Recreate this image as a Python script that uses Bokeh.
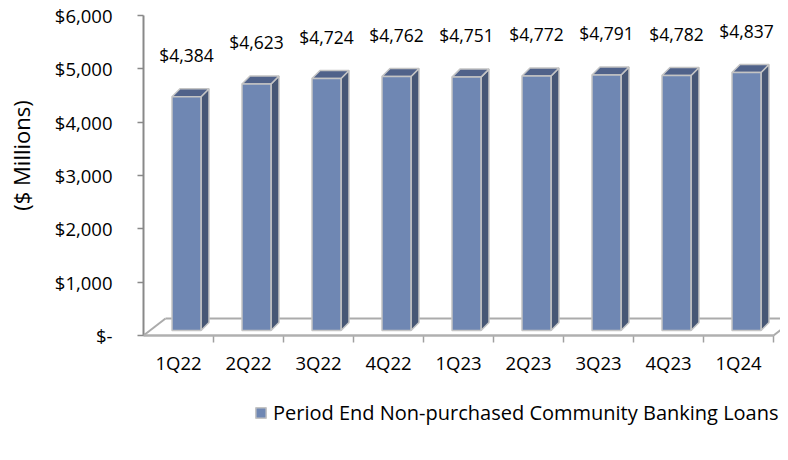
import math
from bokeh.plotting import figure
from bokeh.models import (Range1d, FixedTicker, Legend, LegendItem, Label,
                          ColumnDataSource, CustomJSTickFormatter)
from bokeh.embed import file_html
from bokeh.resources import INLINE
from bokeh.core.properties import value

# ---------------- data ----------------
categories = ["1Q22", "2Q22", "3Q22", "4Q22", "1Q23", "2Q23", "3Q23", "4Q23", "1Q24"]
loans = [4384, 4623, 4724, 4762, 4751, 4772, 4791, 4782, 4837]
data_labels = ["$4,384", "$4,623", "$4,724", "$4,762", "$4,751",
               "$4,772", "$4,791", "$4,782", "$4,837"]
y_ticks = [0, 1000, 2000, 3000, 4000, 5000, 6000]
y_tick_labels = ["$-", "$1,000", "$2,000", "$3,000", "$4,000", "$5,000", "$6,000"]
series_name = "Period End Non-purchased Community Banking Loans"
y_title = "($ Millions)"

# ---------------- layout (canvas pixels) ----------------
W, H = 780, 444
AX_X = 143      # canvas x of the value axis / first category edge
AX_TOP = 15     # canvas y of $6,000
AX_BOT = 335    # canvas y of $0
CAT_W = 70.0    # px per category
YMAX = 6000
sx = CAT_W
sy = (AX_BOT - AX_TOP) / YMAX

x_start = -AX_X / sx
x_end = (W - AX_X) / sx
y_end = YMAX + AX_TOP / sy
y_start = -(H - AX_BOT) / sy

FONT = "Open Sans"
FRONT = "#6F87B3"
SIDE = "#475775"
TOP = "#50628A"
EDGE = "#C4C4C4"
AXIS = "#898989"

p = figure(width=W, height=H, x_range=Range1d(x_start, x_end),
           y_range=Range1d(y_start, y_end),
           output_backend="svg", toolbar_location=None, title=None,
           min_border=0)
p.outline_line_color = None
p.grid.visible = False
p.background_fill_color = "white"
p.border_fill_color = "white"

# pixel offsets converted into data units
ox = 8 / sx
half = 14.5 / sx
base_off = 5 / sy
dep_x = 8 / sx
dep_y = 8 / sy
floor_dx = 22 / sx
floor_dy = 17 / sy
label_off = 880

n = len(categories)

# ---------------- floor ----------------
p.multi_line(xs=[[0, floor_dx], [floor_dx, n + floor_dx], [n, n + floor_dx]],
             ys=[[0, floor_dy], [floor_dy, floor_dy], [0, floor_dy]],
             line_color="#ABABAB", line_width=2)

# value-axis line and category tick marks (thin filled strips)
p.quad(left=[-1 / sx], right=[1 / sx], bottom=[0], top=[YMAX],
       fill_color=AXIS, line_color=None)
edges = list(range(1, n + 1))
p.quad(left=[e - 0.75 / sx for e in edges], right=[e + 0.75 / sx for e in edges],
       bottom=[-7 / sy] * n, top=[0] * n, fill_color="#A0A0A0", line_color=None)

# ---------------- bars ----------------
centers = [i + 0.5 + ox for i in range(n)]
left = [c - half for c in centers]
right = [c + half for c in centers]
bottom = [base_off] * n
top = [v + base_off for v in loans]

side_xs = [[r, r, r + dep_x, r + dep_x] for r in right]
side_ys = [[b, t, t + dep_y, b + dep_y] for b, t in zip(bottom, top)]
top_xs = [[l, r, r + dep_x, l + dep_x] for l, r in zip(left, right)]
top_ys = [[t, t, t + dep_y, t + dep_y] for t in top]

p.patches(xs=side_xs, ys=side_ys, fill_color=SIDE, line_color=EDGE, line_width=1.5)
p.patches(xs=top_xs, ys=top_ys, fill_color=TOP, line_color=EDGE, line_width=1.5)
src = ColumnDataSource(dict(left=left, right=right, bottom=bottom, top=top))
bars = p.quad(left="left", right="right", bottom="bottom", top="top", source=src,
              fill_color=FRONT, line_color=EDGE, line_width=1.5)

# ---------------- data labels ----------------
p.text(x=centers, y=[v + label_off for v in loans], text=data_labels,
       text_font=value(FONT), text_font_size="17.5px", text_color="black",
       text_align="center", text_baseline="middle")

# ---------------- axes ----------------
xa = p.xaxis[0]
xa.fixed_location = 0
xa.ticker = FixedTicker(ticks=[i + 0.5 for i in range(n)], minor_ticks=[])
xa.formatter = CustomJSTickFormatter(args=dict(cats=categories),
                                     code="return cats[Math.floor(tick)] || '';")
xa.bounds = (0, n)
xa.axis_line_color = "#B0B0B0"
xa.axis_line_width = 2.5
xa.major_tick_line_color = None
xa.major_tick_out = 0
xa.major_tick_in = 0
xa.minor_tick_line_color = None
xa.major_label_standoff = 14
xa.major_label_text_font = FONT
xa.major_label_text_font_size = "18.5px"
xa.major_label_text_color = "black"

ya = p.yaxis[0]
ya.fixed_location = 0
ya.bounds = (0, YMAX)
ya.ticker = FixedTicker(ticks=y_ticks, minor_ticks=[])
ya.major_label_overrides = dict(zip(y_ticks, y_tick_labels))
ya.axis_line_color = None
ya.major_tick_line_color = AXIS
ya.major_tick_line_width = 1.5
ya.major_tick_out = 6
ya.major_tick_in = 0
ya.minor_tick_line_color = None
ya.major_label_standoff = 25
ya.major_label_text_font = FONT
ya.major_label_text_font_size = "18.5px"
ya.major_label_text_color = "black"

# ---------------- y title ----------------
p.add_layout(Label(x=x_start + 20 / sx, y=(AX_BOT - 155) / sy, text=y_title,
                   angle=math.pi / 2, text_font=FONT, text_font_size="22px",
                   text_color="black", text_align="center", text_baseline="middle"))

# ---------------- legend ----------------
legend = Legend(items=[LegendItem(label=series_name, renderers=[bars])],
                location=(254, 18), orientation="horizontal",
                padding=0, margin=0, spacing=0,
                glyph_width=13, glyph_height=13, label_standoff=6,
                label_text_font=FONT, label_text_font_size="20px",
                label_text_color="black",
                border_line_color=None, background_fill_alpha=0)
p.add_layout(legend, "center")

open("out.html", "w").write(file_html(p, INLINE))
